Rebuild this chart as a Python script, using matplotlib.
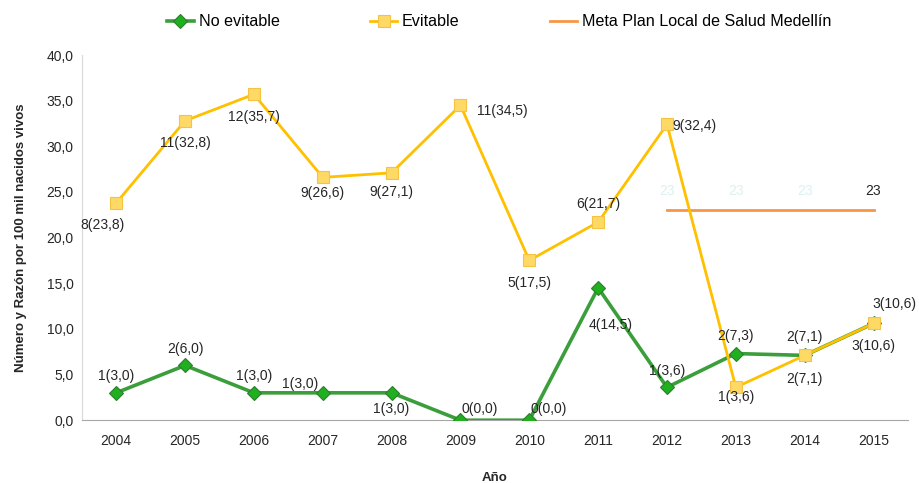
import matplotlib
matplotlib.use("Agg")
import matplotlib.pyplot as plt

years = ["2004", "2005", "2006", "2007", "2008", "2009", "2010", "2011", "2012", "2013", "2014", "2015"]
no_evitable = [3.0, 6.0, 3.0, 3.0, 3.0, 0.0, 0.0, 14.5, 3.6, 7.3, 7.1, 10.6]
no_evitable_n = [1, 2, 1, 1, 1, 0, 0, 4, 1, 2, 2, 3]
evitable = [23.8, 32.8, 35.7, 26.6, 27.1, 34.5, 17.5, 21.7, 32.4, 3.6, 7.1, 10.6]
evitable_n = [8, 11, 12, 9, 9, 11, 5, 6, 9, 1, 2, 3]
meta_years = ["2012", "2013", "2014", "2015"]
meta = [23, 23, 23, 23]

# label offsets in points (dx, dy), hand placed like the original
off_no = [(0, 12), (0, 12), (0, 12), (-16, 6), (0, -12), (14, 8), (14, 8), (9, -27), (0, 12), (0, 13), (0, 13), (0, -16)]
off_ev = [(-10, -16), (0, -16), (0, -16), (0, -11), (0, -14), (30, -4), (0, -16), (0, 13), (20, -1), (0, -7), (0, -17), (15, 14)]

plt.rcParams["font.family"] = ["Liberation Sans", "DejaVu Sans"]
txt = "#262626"

fig, ax = plt.subplots(figsize=(9.19, 4.83), dpi=100)
fig.subplots_adjust(left=0.089, right=0.988, top=0.886, bottom=0.13)

x = list(range(len(years)))
ax.plot(x, no_evitable, color="#3A9E3A", lw=2.6, marker="D", ms=7,
        mfc="#1FAF1F", mec="#2E7D2E", mew=0.8, label="No evitable", zorder=3)
ax.plot(x, evitable, color="#FFC000", lw=2.0, marker="s", ms=8,
        mfc="#FFD966", mec="#F5C242", mew=0.8, label="Evitable", zorder=4)
xm = [years.index(y) for y in meta_years]
ax.plot(xm, meta, color="#F79646", lw=2.0, label="Meta Plan Local de Salud Medellín", zorder=2)

fs = 10
for i in x:
    ax.annotate(f"{no_evitable_n[i]}({no_evitable[i]:.1f})".replace(".", ","),
                (i, no_evitable[i]), xytext=off_no[i], textcoords="offset points",
                ha="center", va="center", fontsize=fs, color=txt, zorder=6)
    ax.annotate(f"{evitable_n[i]}({evitable[i]:.1f})".replace(".", ","),
                (i, evitable[i]), xytext=off_ev[i], textcoords="offset points",
                ha="center", va="center", fontsize=fs, color=txt, zorder=6)
for k, i in enumerate(xm):
    c = txt if k == len(xm) - 1 else "#DDF0F0"
    ax.annotate(str(meta[k]), (i, meta[k]), xytext=(0, 14), textcoords="offset points",
                ha="center", va="center", fontsize=fs, color=c)

ax.set_xlim(-0.5, len(years) - 0.5)
ax.set_ylim(0, 40)
ax.set_xticks(x)
ax.set_xticklabels(years)
ax.set_yticks(range(0, 41, 5))
ax.set_yticklabels([f"{v:.1f}".replace(".", ",") for v in range(0, 41, 5)])
ax.tick_params(length=0, labelsize=fs, colors=txt, pad=10)
ax.tick_params(axis="y", pad=6)
for s in ["top", "right"]:
    ax.spines[s].set_visible(False)
ax.spines["left"].set_color("#D9D9D9")
ax.spines["bottom"].set_color("#A6A6A6")

ax.set_ylabel("Número y Razón por 100 mil nacidos vivos", fontsize=9.5, fontweight="bold", color=txt, labelpad=14)
ax.set_xlabel("Año", fontsize=9.5, fontweight="bold", color=txt, labelpad=17)

fig.legend(loc="upper center", bbox_to_anchor=(0.543, 1.0), ncol=3, frameon=False,
           fontsize=11.6, columnspacing=5.6, handlelength=1.7, handletextpad=0.3)

fig.savefig("out.png", dpi=100)
